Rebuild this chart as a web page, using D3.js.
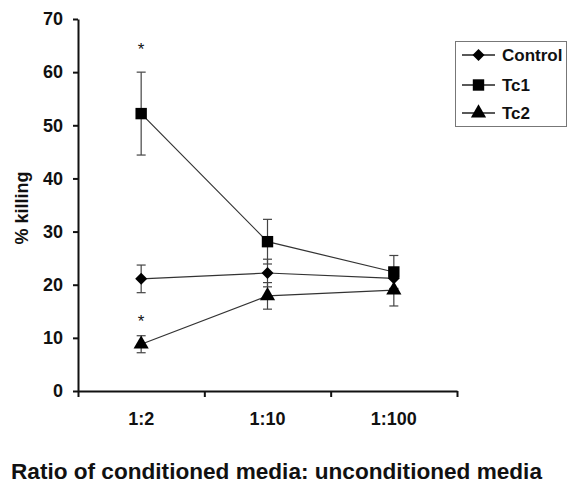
<!DOCTYPE html>
<html lang="en">
<head>
<meta charset="utf-8">
<title>% killing</title>
<script src="https://cdn.jsdelivr.net/npm/d3@7"></script>
<style>
  body { margin: 0; background: #fff; }
  svg text { font-family: "Liberation Sans", Arial, sans-serif; font-weight: bold; fill: #111; }
  .axis path, .axis line { stroke: #111; stroke-width: 2; }
</style>
</head>
<body>
<script>
// data
var categories = ["1:2", "1:10", "1:100"];
var seriesNames = ["Control", "Tc1", "Tc2"];
var controlValues = [21.1, 22.2, 21.2];
var controlErrors = [2.6, 2.6, 2.0];
var tc1Values = [52.2, 28.1, 22.4];
var tc1Errors = [7.8, 4.2, 3.1];
var tc2Values = [8.8, 17.9, 19.0];
var tc2Errors = [1.6, 2.5, 3.0];
var yTicks = [0, 10, 20, 30, 40, 50, 60, 70];
var stars = [["1:2", 64.7], ["1:2", 13.5]];

var w = 569, h = 483;
var plotLeft = 78, plotRight = 457, plotTop = 19, plotBottom = 391;

var svg = d3.select("body").append("svg")
  .attr("width", w)
  .attr("height", h);

// diamond drawn as a square turned 45 degrees
var series = [
  { name: seriesNames[0], values: controlValues, errors: controlErrors, symbol: d3.symbolSquare, size: 72, rot: 45 },
  { name: seriesNames[1], values: tc1Values, errors: tc1Errors, symbol: d3.symbolSquare, size: 130, rot: 0 },
  { name: seriesNames[2], values: tc2Values, errors: tc2Errors, symbol: d3.symbolTriangle, size: 100, rot: 0 }
];

var xScale = d3.scaleBand().domain(categories).range([plotLeft, plotRight]).padding(0);
var xEdges = d3.scaleLinear().domain([0, categories.length]).range([plotLeft, plotRight]);
var yScale = d3.scaleLinear().domain([0, 70]).range([plotBottom, plotTop]);

function cx(c) { return xScale(c) + xScale.bandwidth() / 2; }

// axes
var xAxis = d3.axisBottom(xEdges)
  .tickValues(d3.range(0, categories.length + 1))
  .tickFormat("")
  .tickSize(6)
  .tickSizeOuter(0);
svg.append("g")
  .attr("class", "axis")
  .attr("transform", "translate(0," + plotBottom + ")")
  .call(xAxis);

svg.append("g").selectAll("text")
  .data(categories)
  .enter().append("text")
  .attr("x", function(d) { return cx(d); })
  .attr("y", 425)
  .attr("text-anchor", "middle")
  .attr("font-size", "18px")
  .text(function(d) { return d; });

var yAxis = d3.axisLeft(yScale)
  .tickValues(yTicks)
  .tickSize(5)
  .tickSizeOuter(0)
  .tickPadding(10);
var yg = svg.append("g")
  .attr("class", "axis")
  .attr("transform", "translate(" + plotLeft + ",0)")
  .call(yAxis);
yg.attr("font-family", null).attr("font-size", null);
yg.selectAll("text").attr("font-size", "18px");

svg.append("text")
  .attr("transform", "translate(28,208) rotate(-90)")
  .attr("text-anchor", "middle")
  .attr("font-size", "18px")
  .text("% killing");

svg.append("text")
  .attr("x", 11)
  .attr("y", 479)
  .attr("font-size", "22.6px")
  .text("Ratio of conditioned media: unconditioned media");

// lines
var line = d3.line()
  .x(function(d, i) { return cx(categories[i]); })
  .y(function(d) { return yScale(d); });

svg.append("g").selectAll("path")
  .data(series)
  .enter().append("path")
  .attr("d", function(s) { return line(s.values); })
  .attr("fill", "none")
  .attr("stroke", "#333")
  .attr("stroke-width", 1.2);

// error bars
series.forEach(function(s) {
  var g = svg.append("g").attr("stroke", "#444").attr("stroke-width", 1.2);
  s.values.forEach(function(v, i) {
    var x = cx(categories[i]);
    var y0 = yScale(v - s.errors[i]), y1 = yScale(v + s.errors[i]);
    g.append("line").attr("x1", x).attr("x2", x).attr("y1", y0).attr("y2", y1);
    g.append("line").attr("x1", x - 4.5).attr("x2", x + 4.5).attr("y1", y0).attr("y2", y0);
    g.append("line").attr("x1", x - 4.5).attr("x2", x + 4.5).attr("y1", y1).attr("y2", y1);
  });
});

// markers
series.forEach(function(s) {
  svg.append("g").selectAll("path")
    .data(s.values)
    .enter().append("path")
    .attr("d", d3.symbol().type(s.symbol).size(s.size))
    .attr("transform", function(d, i) {
      return "translate(" + cx(categories[i]) + "," + yScale(d) + ") rotate(" + s.rot + ")";
    })
    .attr("fill", "#000");
});

// significance stars
svg.append("g").selectAll("text")
  .data(stars)
  .enter().append("text")
  .attr("x", function(d) { return cx(d[0]); })
  .attr("y", function(d) { return yScale(d[1]) + 8; })
  .attr("text-anchor", "middle")
  .attr("font-size", "17px")
  .style("font-weight", "normal")
  .text("*");

// legend
var legend = svg.append("g");
legend.append("rect")
  .attr("x", 455.5)
  .attr("y", 41.5)
  .attr("width", 111)
  .attr("height", 85)
  .attr("fill", "#fff")
  .attr("stroke", "#777")
  .attr("stroke-width", 1);

var items = legend.selectAll("g.item")
  .data(series)
  .enter().append("g")
  .attr("class", "item")
  .attr("transform", function(d, i) { return "translate(0," + [55, 85, 113][i] + ")"; });
items.append("line")
  .attr("x1", 462).attr("x2", 495)
  .attr("stroke", "#222").attr("stroke-width", 1.5);
items.append("path")
  .attr("d", function(d) { return d3.symbol().type(d.symbol).size(d.size)(); })
  .attr("transform", function(d) { return "translate(478.5,0) rotate(" + d.rot + ")"; })
  .attr("fill", "#000");
items.append("text")
  .attr("x", 502)
  .attr("y", 6)
  .attr("font-size", "17px")
  .text(function(d) { return d.name; });
</script>
</body>
</html>
